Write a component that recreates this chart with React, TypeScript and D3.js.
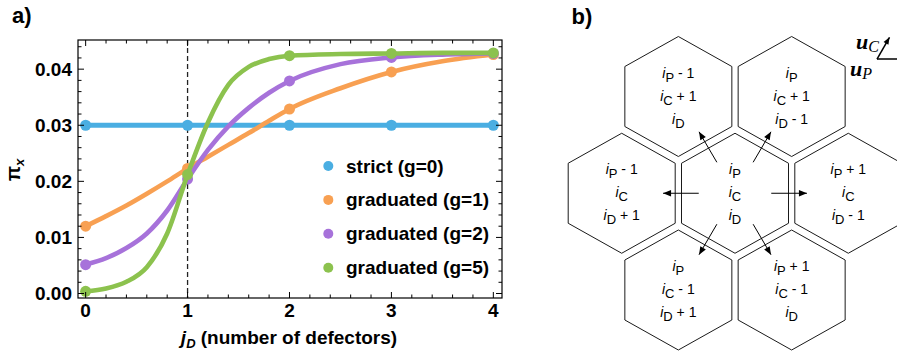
import { useMemo } from "react";
import * as d3 from "d3";

const BLUE = "#4aaee2";
const ORANGE = "#f8a052";
const PURPLE = "#a772da";
const GREEN = "#8cc24e";

// dots at integer defector counts
const dotX = [0, 1, 2, 3, 4];
const strictDots = [0.03, 0.03, 0.03, 0.03, 0.03];
const g1Dots = [0.012, 0.0223, 0.0329, 0.0395, 0.0426];
const g2Dots = [0.00515, 0.0204, 0.0379, 0.0421, 0.0428];
const g5Dots = [0.0004, 0.0212, 0.0424, 0.0428, 0.0429];

// smooth curves
const curveX = [0, 0.2, 0.4, 0.6, 0.8, 1, 1.2, 1.4, 1.6, 1.8, 2, 2.5, 3, 3.5, 4];
const g1Curve = [0.012, 0.0138, 0.0157, 0.0178, 0.02, 0.0223, 0.0244, 0.0265, 0.0286, 0.0308, 0.0329, 0.0366, 0.0395, 0.0414, 0.0426];
const g2Curve = [0.00515, 0.0063, 0.0081, 0.0107, 0.0148, 0.0204, 0.0256, 0.0298, 0.0331, 0.0358, 0.0379, 0.0409, 0.0421, 0.0426, 0.0428];
const g5Curve = [0.0004, 0.0009, 0.0021, 0.0047, 0.0107, 0.0212, 0.0305, 0.0372, 0.0404, 0.0418, 0.0424, 0.0427, 0.0428, 0.0429, 0.0429];

const legendLabels = ["strict (g=0)", "graduated (g=1)", "graduated (g=2)", "graduated (g=5)"];
const legendColors = [BLUE, ORANGE, PURPLE, GREEN];

// hex lattice panel b)
const hexCol = [-0.5, 0.5, -1, 0, 1, -0.5, 0.5];
const hexRow = [-1, -1, 0, 0, 0, 1, 1];
const dP = [-1, 0, -1, 0, 1, 0, 1];
const dC = [1, 1, 0, 0, 0, -1, -1];
const dD = [0, -1, 1, 0, -1, 1, 0];

const FONT = "'Liberation Sans', Arial, Helvetica, sans-serif";
const SERIF = "'Liberation Serif', 'DejaVu Serif', serif";

const fmtDelta = (d: number) => (d > 0 ? " + 1" : d < 0 ? " - 1" : "");

export default function App() {
  const x = useMemo(() => d3.scaleLinear().domain([-0.075, 4.085]).range([78, 502]), []);
  const y = useMemo(() => d3.scaleLinear().domain([-0.0008, 0.0452]).range([298, 40]), []);
  const [x0, x1] = x.range();
  const [y0, y1] = y.range();

  const line = d3.line<[number, number]>().x(d => x(d[0])).y(d => y(d[1])).curve(d3.curveMonotoneX);
  const series = [
    { pts: dotX.map((v, i) => [v, strictDots[i]] as [number, number]), dots: strictDots, color: BLUE, w: 5 },
    { pts: curveX.map((v, i) => [v, g1Curve[i]] as [number, number]), dots: g1Dots, color: ORANGE, w: 4.6 },
    { pts: curveX.map((v, i) => [v, g2Curve[i]] as [number, number]), dots: g2Dots, color: PURPLE, w: 4.6 },
    { pts: curveX.map((v, i) => [v, g5Curve[i]] as [number, number]), dots: g5Dots, color: GREEN, w: 4.6 },
  ];

  const xMajor = x.ticks(5).filter(t => Number.isInteger(t));
  const xMinor = x.ticks(20).filter(t => !Number.isInteger(t));
  const yMajor = y.ticks(5);
  const yMinor = y.ticks(25).filter(t => !yMajor.some(m => Math.abs(m - t) < 1e-9));

  // hex layout
  const hx = d3.scaleLinear().domain([-1, 1]).range([621.7, 848.3]);
  const hy = d3.scaleLinear().domain([-1, 1]).range([96.5, 290]);
  const R = 60, HW = 53.5;
  const hexPts = [[0, -R], [HW, -R / 2], [HW, R / 2], [0, R], [-HW, R / 2], [-HW, -R / 2]];
  const cx0 = hx(0), cy0 = hy(0);

  // basis vectors
  const ox = 877, oy = 59, L = 25;

  return (
    <svg width={897} height={356} style={{ position: "absolute", left: 0, top: 0, background: "#fff" }} fontFamily={FONT}>
      <defs>
        <marker id="ah" viewBox="0 0 10 10" refX={10} refY={5} markerWidth={9} markerHeight={8} markerUnits="userSpaceOnUse" orient="auto">
          <path d="M0,1 L10,5 L0,9 Z" fill="#000" />
        </marker>
        <marker id="ah2" viewBox="0 0 10 10" refX={10} refY={5} markerWidth={9} markerHeight={7} markerUnits="userSpaceOnUse" orient="auto">
          <path d="M0,1 L10,5 L0,9 Z" fill="#000" />
        </marker>
      </defs>

      {/* panel a */}
      <text x={12} y={23} fontSize={22} fontWeight="bold">a)</text>

      <line x1={x(1)} x2={x(1)} y1={y1} y2={y0} stroke="#222" strokeWidth={1.3} strokeDasharray="5,3" />

      {series.map((s, i) => (
        <g key={i}>
          <path d={line(s.pts) ?? ""} fill="none" stroke={s.color} strokeWidth={s.w} />
          {s.dots.map((v, j) => (
            <circle key={j} cx={x(dotX[j])} cy={y(v)} r={5.5} fill={s.color} />
          ))}
        </g>
      ))}

      {/* frame + inward ticks */}
      <rect x={x0} y={y1} width={x1 - x0} height={y0 - y1} fill="none" stroke="#000" strokeWidth={1.2} />
      {xMajor.map(t => (
        <g key={"xM" + t}>
          <line x1={x(t)} x2={x(t)} y1={y0} y2={y0 - 6} stroke="#000" />
          <line x1={x(t)} x2={x(t)} y1={y1} y2={y1 + 6} stroke="#000" />
          <text x={x(t)} y={317} fontSize={19} fontWeight="bold" textAnchor="middle">{t}</text>
        </g>
      ))}
      {xMinor.map(t => (
        <g key={"xm" + t}>
          <line x1={x(t)} x2={x(t)} y1={y0} y2={y0 - 3.5} stroke="#000" />
          <line x1={x(t)} x2={x(t)} y1={y1} y2={y1 + 3.5} stroke="#000" />
        </g>
      ))}
      {yMajor.map(t => (
        <g key={"yM" + t}>
          <line x1={x0} x2={x0 + 6} y1={y(t)} y2={y(t)} stroke="#000" />
          <line x1={x1} x2={x1 - 6} y1={y(t)} y2={y(t)} stroke="#000" />
          <text x={72} y={y(t) + 6.5} fontSize={19} fontWeight="bold" textAnchor="end">{d3.format(".2f")(t)}</text>
        </g>
      ))}
      {yMinor.map(t => (
        <g key={"ym" + t}>
          <line x1={x0} x2={x0 + 3.5} y1={y(t)} y2={y(t)} stroke="#000" />
          <line x1={x1} x2={x1 - 3.5} y1={y(t)} y2={y(t)} stroke="#000" />
        </g>
      ))}

      <text x={289} y={344} fontSize={19} fontWeight="bold" textAnchor="middle">
        <tspan fontStyle="italic">j</tspan>
        <tspan fontStyle="italic" fontSize={13} dy={4}>D</tspan>
        <tspan dy={-4}> (number of defectors)</tspan>
      </text>
      <text transform="translate(20,170) rotate(-90)" fontSize={20} fontWeight="bold" textAnchor="middle">
        π<tspan fontStyle="italic" fontSize={13} dy={4}>x</tspan>
      </text>

      {legendLabels.map((l, i) => (
        <g key={l}>
          <circle cx={328.3} cy={166 + i * 33.9} r={5} fill={legendColors[i]} />
          <text x={346} y={166 + i * 33.9 + 6.5} fontSize={19} fontWeight="bold">{l}</text>
        </g>
      ))}

      {/* panel b */}
      <text x={571.5} y={24} fontSize={22} fontWeight="bold">b)</text>

      {hexCol.map((c, i) => {
        const cx = hx(c), cy = hy(hexRow[i]);
        const rows: [string, number][] = [["P", dP[i]], ["C", dC[i]], ["D", dD[i]]];
        return (
          <g key={"hex" + i}>
            <polygon points={hexPts.map(p => `${cx + p[0]},${cy + p[1]}`).join(" ")} fill="none" stroke="#1a1a1a" strokeWidth={1} />
            {rows.map(([s, d], k) => (
              <text key={s} x={cx} y={cy - 19 + k * 23} fontSize={14} textAnchor="middle">
                <tspan fontStyle="italic">i</tspan>
                <tspan fontSize={13} dy={4}>{s}</tspan>
                <tspan dy={-4}>{fmtDelta(d)}</tspan>
              </text>
            ))}
          </g>
        );
      })}

      {hexCol.map((c, i) => {
        if (c === 0 && hexRow[i] === 0) return null;
        const dx = hx(c) - cx0, dy = hy(hexRow[i]) - cy0;
        return (
          <line key={"arr" + i} x1={cx0 + dx * 0.32} y1={cy0 + dy * 0.32} x2={cx0 + dx * 0.635} y2={cy0 + dy * 0.635}
            stroke="#000" strokeWidth={1} markerEnd="url(#ah)" />
        );
      })}

      {/* basis vectors */}
      <line x1={ox} y1={oy} x2={ox + L * Math.cos(Math.PI / 3)} y2={oy - L * Math.sin(Math.PI / 3)} stroke="#000" strokeWidth={1.5} markerEnd="url(#ah2)" />
      <line x1={ox} y1={oy} x2={ox + 28} y2={oy} stroke="#000" strokeWidth={1.5} markerEnd="url(#ah2)" />
      <text x={879} y={49} fontSize={22} textAnchor="end" fontFamily={SERIF}>
        <tspan fontWeight="bold" fontStyle="italic">u</tspan>
        <tspan fontStyle="italic" fontSize={16} dy={3}>C</tspan>
      </text>
      <text x={850} y={76} fontSize={22} fontFamily={SERIF}>
        <tspan fontWeight="bold" fontStyle="italic">u</tspan>
        <tspan fontStyle="italic" fontSize={16} dy={3}>P</tspan>
      </text>
    </svg>
  );
}
